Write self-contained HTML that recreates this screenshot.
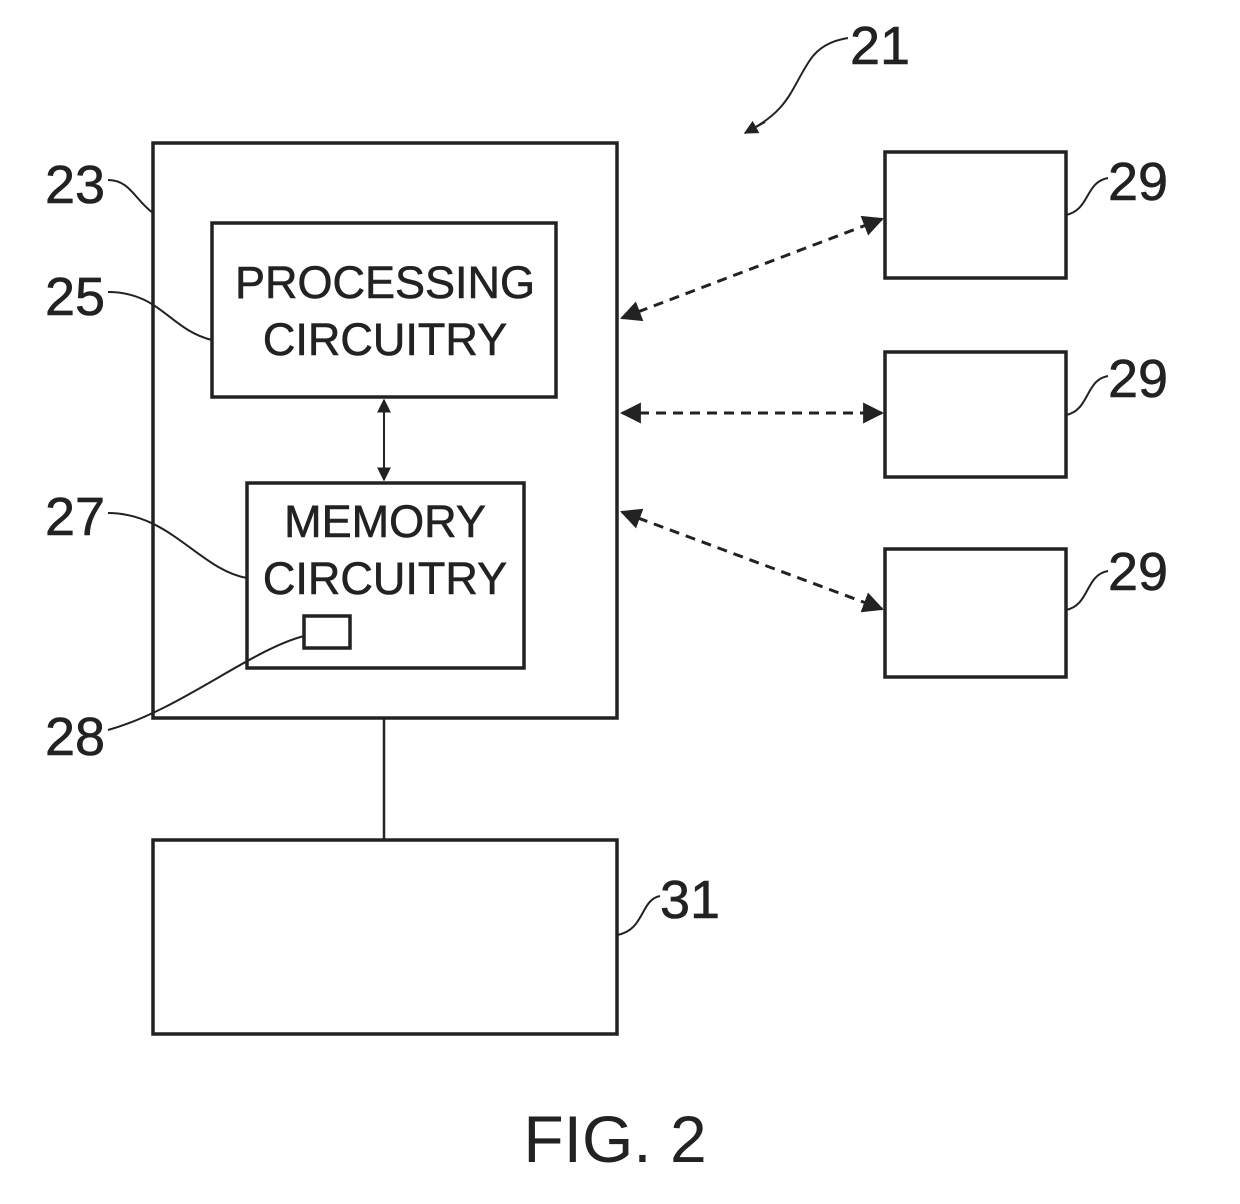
<!DOCTYPE html>
<html><head><style>body{margin:0;background:#fff}</style></head><body>
<svg width="1240" height="1199" xmlns="http://www.w3.org/2000/svg" font-family="Liberation Sans, sans-serif" fill="none" stroke="#222">
<defs>
<marker id="a" viewBox="0 0 10 10" refX="9" refY="5" markerWidth="7" markerHeight="7" orient="auto-start-reverse"><path d="M0,0L10,5L0,10z" fill="#222" stroke="none"/></marker>
</defs>
<g stroke-width="3.5">
<rect x="153" y="143" width="464" height="575"/>
<rect x="212" y="223" width="344" height="174"/>
<rect x="247" y="483" width="277" height="185"/>
<rect x="304" y="616" width="46" height="32"/>
<rect x="153" y="840" width="464" height="194"/>
<rect x="885" y="152" width="181" height="126"/>
<rect x="885" y="352" width="181" height="125"/>
<rect x="885" y="549" width="181" height="128"/>
</g>
<line x1="384" y1="718" x2="384" y2="840" stroke-width="2.5"/>
<line x1="384" y1="400" x2="384" y2="480" stroke-width="2" marker-start="url(#a)" marker-end="url(#a)"/>
<g stroke-width="3" stroke-dasharray="10,7" marker-start="url(#a)" marker-end="url(#a)">
<line x1="622" y1="318" x2="882" y2="219"/>
<line x1="622" y1="413" x2="882" y2="413"/>
<line x1="622" y1="512" x2="882" y2="609"/>
</g>
<g stroke-width="2">
<path d="M745,133 C790,110 790,90 810,60 C820,45 835,40 848,38" />
<path d="M108,180 C130,180 135,200 153,213"/>
<path d="M108,292 C160,292 170,330 212,340"/>
<path d="M108,513 C170,513 200,570 247,578"/>
<path d="M108,730 C180,710 250,650 304,636"/>
<path d="M1066,215 C1090,210 1085,182 1108,178"/>
<path d="M1066,415 C1090,410 1085,380 1108,376"/>
<path d="M1066,610 C1090,605 1085,575 1108,571"/>
<path d="M617,935 C645,930 640,900 660,896"/>
</g>
<line x1="745" y1="133" x2="765" y2="122" stroke-width="2" marker-start="url(#a)"/>
<g fill="#222" stroke="#222" stroke-width="0.6" font-size="54">
<text x="850" y="64">21</text>
<text x="45" y="203">23</text>
<text x="45" y="315">25</text>
<text x="45" y="535">27</text>
<text x="45" y="755">28</text>
<text x="1108" y="200">29</text>
<text x="1108" y="397">29</text>
<text x="1108" y="590">29</text>
<text x="660" y="918">31</text>
<g font-size="45" text-anchor="middle">
<text x="385" y="298">PROCESSING</text>
<text x="385" y="355">CIRCUITRY</text>
<text x="385" y="537">MEMORY</text>
<text x="385" y="594">CIRCUITRY</text>
</g>
<text x="615" y="1162" font-size="66" text-anchor="middle" stroke-width="0">FIG. 2</text>
</g>
</svg>
</body></html>
